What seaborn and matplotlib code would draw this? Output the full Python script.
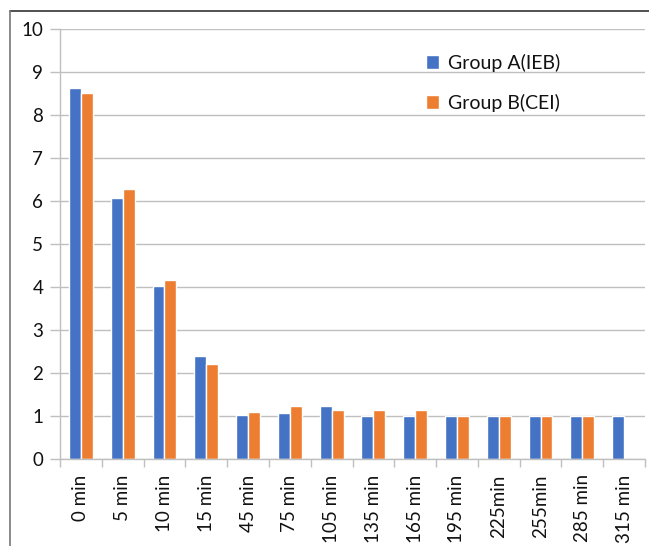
import numpy as np
import pandas as pd
import matplotlib
matplotlib.use("Agg")
import matplotlib.pyplot as plt
import seaborn as sns
from matplotlib.lines import Line2D

categories = ["0 min", "5 min", "10 min", "15 min", "45 min", "75 min", "105 min",
              "135 min", "165 min", "195 min", "225min", "255min", "285 min", "315 min"]
group_a = [8.63, 6.07, 4.02, 2.39, 1.02, 1.07, 1.23, 1.0, 1.0, 1.0, 1.0, 1.0, 1.0, 1.0]
group_b = [8.52, 6.27, 4.17, 2.22, 1.09, 1.24, 1.14, 1.14, 1.14, 1.0, 1.0, 1.0, 1.0, np.nan]
series_names = ["Group A(IEB)", "Group B(CEI)"]
y_ticks = [0, 1, 2, 3, 4, 5, 6, 7, 8, 9, 10]

df = pd.DataFrame({
    "time": categories * 2,
    "value": group_a + group_b,
    "group": [series_names[0]] * len(categories) + [series_names[1]] * len(categories),
})

sns.set_theme(style="white")
plt.rcParams["font.family"] = ["Lato", "DejaVu Sans"]

fig = plt.figure(figsize=(6.49, 5.46), dpi=100)
ax = fig.add_axes([60 / 649, 1 - 459 / 546, 585 / 649, 430 / 546])

sns.barplot(data=df, x="time", y="value", hue="group", order=categories,
            hue_order=series_names, palette=["#4472C4", "#ED7D31"],
            width=0.57, gap=0, saturation=1, ax=ax, legend=True)

ax.set_xlim(-0.5, len(categories) - 0.5)
ax.set_ylim(0, 10)
ax.set_yticks(y_ticks)
ax.set_xlabel("")
ax.set_ylabel("")
ax.yaxis.grid(True, color="#bfbfbf", linewidth=1.0)
ax.set_axisbelow(True)
for s in ["top", "right"]:
    ax.spines[s].set_visible(False)
for s in ["left", "bottom"]:
    ax.spines[s].set_color("#bfbfbf")
    ax.spines[s].set_linewidth(1.0)

ax.tick_params(axis="y", which="major", length=7, color="#bfbfbf", width=1.0,
               labelsize=13.5, labelcolor="#111111", pad=5, left=True)
ax.set_xticks(range(len(categories)))
ax.set_xticklabels(categories, rotation=90, fontsize=13.5, color="#111111")
ax.tick_params(axis="x", which="major", length=0, pad=11)
ax.set_xticks(np.arange(-0.5, len(categories), 1.0), minor=True)
ax.tick_params(axis="x", which="minor", length=6, color="#bfbfbf", width=1.0, bottom=True)

handles, labels = ax.get_legend_handles_labels()
ax.legend(handles, labels, loc="upper left", bbox_to_anchor=(408 / 649, 1 - 36 / 546),
          bbox_transform=fig.transFigure, frameon=False, fontsize=14,
          labelcolor="#111111",
          handlelength=0.7, handleheight=0.7, handletextpad=0.45, labelspacing=1.15)

fig.add_artist(Line2D([10 / 649, 1.0], [1 - 11 / 546, 1 - 11 / 546], color="#333333", linewidth=1.2))
fig.add_artist(Line2D([10 / 649, 10 / 649], [0, 1 - 11 / 546], color="#777777", linewidth=1.2))

fig.savefig("out.png", dpi=100)
